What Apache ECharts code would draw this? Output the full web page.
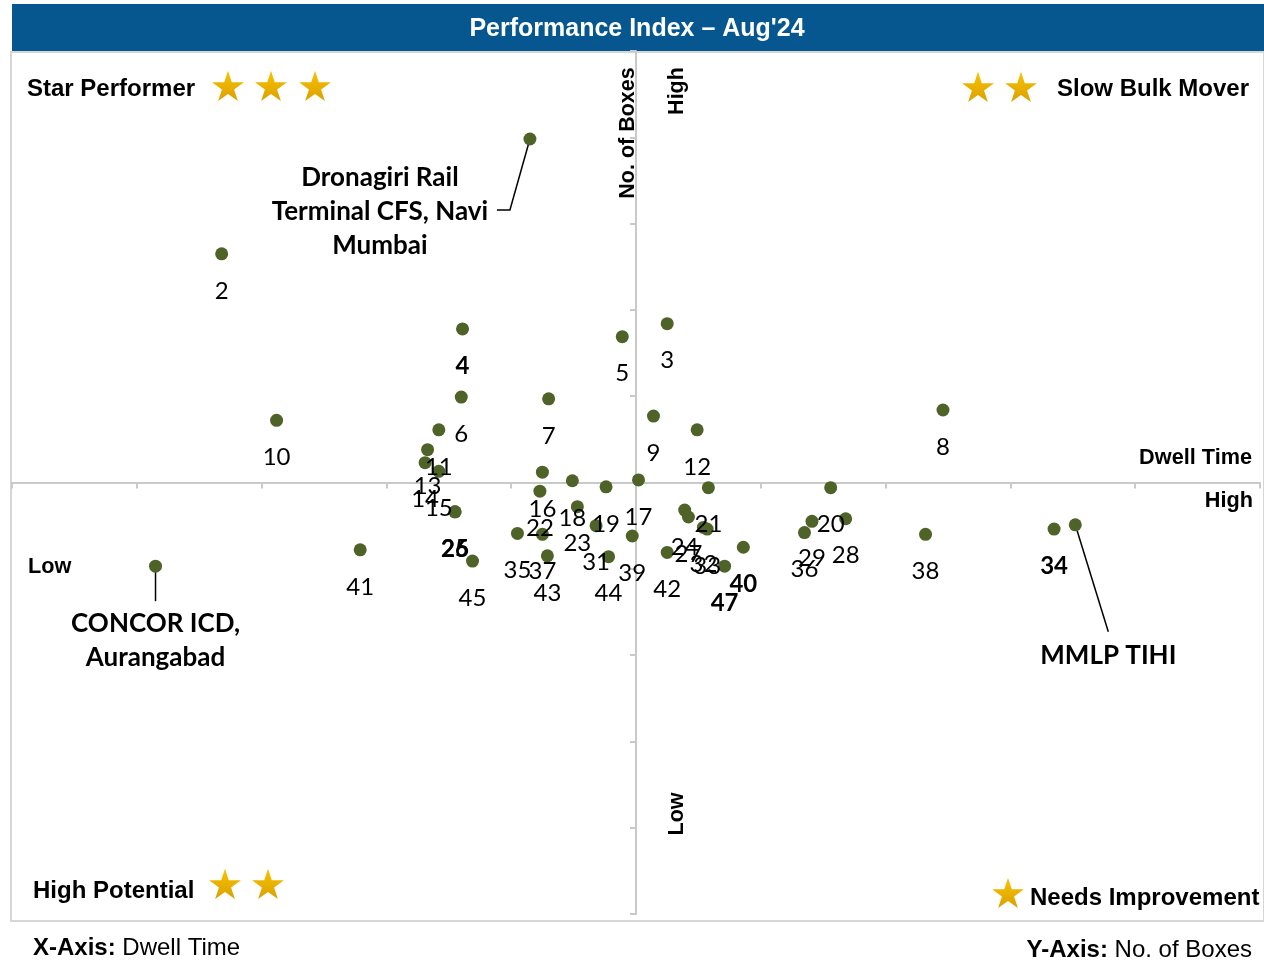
<!DOCTYPE html>
<html>
<head>
<meta charset="utf-8">
<title>Performance Index – Aug'24</title>
<script src="https://cdn.jsdelivr.net/npm/echarts@6/dist/echarts.min.js"></script>
<style>
    html, body { margin: 0; padding: 0; background: #fff; }
    #chart { width: 1264px; height: 963px; }
</style>
</head>
<body>
<div id="chart"></div>
<script>
    // terminal ids (three of them shown by name)
    var pointLabels = [
        'Dronagiri Rail\nTerminal CFS, Navi\nMumbai', '2', '3', '4', '5', '6', '7', '8', '9', '10',
        '11', '12', '13', '14', '15', '16', '17', '18', '19', '20',
        '21', '22', '23', '24', '25', '26', '27', '28', '29', 'MMLP TIHI',
        '31', '32', '33', '34', '35', '36', '37', '38', '39', '40',
        '41', '42', '43', '44', '45', 'CONCOR ICD,\nAurangabad', '47'
    ];
    // x : dwell time (centred score, 0 = average)
    var dwellTime = [
        -0.85, -3.32, 0.25, -1.39, -0.11, -1.40, -0.70, 2.46, 0.14, -2.88,
        -1.58, 0.49, -1.67, -1.69, -1.58, -0.75, 0.02, -0.51, -0.24, 1.56,
        0.58, -0.77, -0.47, 0.39, -1.45, -1.45, 0.42, 1.68, 1.41, 3.52,
        -0.32, 0.54, 0.57, 3.35, -0.95, 1.35, -0.75, 2.32, -0.03, 0.86,
        -2.21, 0.25, -0.71, -0.22, -1.31, -3.85, 0.71
    ];
    // y : no. of boxes (centred score, 0 = average)
    var noOfBoxes = [
        3.98, 2.65, 1.84, 1.78, 1.69, 0.99, 0.97, 0.84, 0.77, 0.72,
        0.61, 0.61, 0.38, 0.23, 0.13, 0.12, 0.03, 0.02, -0.05, -0.06,
        -0.06, -0.10, -0.28, -0.32, -0.34, -0.34, -0.40, -0.42, -0.45, -0.49,
        -0.50, -0.52, -0.54, -0.54, -0.59, -0.58, -0.60, -0.60, -0.62, -0.75,
        -0.78, -0.81, -0.85, -0.86, -0.91, -0.97, -0.97
    ];
    var axisTicks = [-5, -4, -3, -2, -1, 0, 1, 2, 3, 4, 5];

    var SANS = "'Liberation Sans', Arial, sans-serif";
    var LABEL_FONT = "Lato, 'Open Sans', sans-serif";
    var AXIS_GRAY = '#C9C9C9';

    var boldLabels = ['4', '25', '26', '34', '40', '47'];
    // where the named labels sit relative to their dot, plus leader line bends
    var callouts = {
        'Dronagiri Rail\nTerminal CFS, Navi\nMumbai': { offset: [-150, 73], line: [[-20, 71], [-33, 71]] },
        'MMLP TIHI': { offset: [33, 131], line: [[33, 107]] },
        'CONCOR ICD,\nAurangabad': { offset: [0, 74], line: [[0, 35]] }
    };

    var chart = echarts.init(document.getElementById('chart'));

    var seriesData = pointLabels.map(function (name, i) {
        var item = { name: name, value: [dwellTime[i], noOfBoxes[i]] };
        if (callouts[name]) {
            item.label = {
                offset: callouts[name].offset,
                fontWeight: 'bold',
                fontSize: 26,
                lineHeight: 34,
                align: 'center'
            };
        } else if (boldLabels.indexOf(name) >= 0) {
            item.label = { fontWeight: 'bold' };
        }
        return item;
    });

    function starPoints(cx, cy, R) {
        var pts = [], r = R * 0.382;
        for (var k = 0; k < 10; k++) {
            var rad = (k % 2 === 0) ? R : r;
            var a = -Math.PI / 2 + k * Math.PI / 5;
            pts.push([cx + rad * Math.cos(a), cy + rad * Math.sin(a)]);
        }
        return pts;
    }
    function star(cx, cy) {
        return {
            type: 'polygon',
            shape: { points: starPoints(cx, cy + 1.5, 16.8) },
            style: {
                fill: new echarts.graphic.LinearGradient(0, 0, 0, 1, [
                    { offset: 0, color: '#F6C300' },
                    { offset: 1, color: '#DCA000' }
                ])
            }
        };
    }
    function label(text, x, y, size, align, extra) {
        var el = {
            type: 'text',
            x: x, y: y,
            style: {
                text: text, x: 0, y: 0,
                font: 'bold ' + size + 'px ' + SANS,
                fill: '#000',
                align: align,
                verticalAlign: 'middle'
            }
        };
        if (extra) { for (var k in extra) el[k] = extra[k]; }
        return el;
    }

    var graphics = [
        { type: 'rect', shape: { x: 12, y: 4, width: 1252, height: 48 }, style: { fill: '#06568F' } },
        { type: 'rect', shape: { x: 11, y: 52, width: 1253, height: 869 }, style: { fill: null, stroke: '#D6D6D6', lineWidth: 2 } },
        {
            type: 'text', x: 637, y: 29,
            style: { text: "Performance Index – Aug'24", x: 0, y: 0, font: 'bold 25px ' + SANS, fill: '#fff', align: 'center', verticalAlign: 'middle' }
        },
        label('Star Performer', 27, 89, 24, 'left'),
        label('Slow Bulk Mover', 1057, 89, 24, 'left'),
        label('High Potential', 33, 891, 24, 'left'),
        label('Needs Improvement', 1030, 898, 24, 'left'),
        label('Dwell Time', 1252, 458, 21.7, 'right'),
        label('High', 1253, 501, 21.7, 'right'),
        label('Low', 28, 567, 21.7, 'left'),
        label('No. of Boxes', 628, 133, 21.5, 'center', { rotation: Math.PI / 2 }),
        label('High', 677, 91, 21.5, 'center', { rotation: Math.PI / 2 }),
        label('Low', 677, 814, 21.5, 'center', { rotation: Math.PI / 2 }),
        star(228, 86), star(271, 86), star(315, 86),
        star(978, 87), star(1021, 87),
        star(225, 884), star(268, 884),
        star(1008, 893),
        {
            type: 'text', x: 33, y: 948,
            style: {
                text: '{b|X-Axis:}{r| Dwell Time}', x: 0, y: 0, align: 'left', verticalAlign: 'middle',
                rich: {
                    b: { font: 'bold 24px ' + SANS, fill: '#000' },
                    r: { font: '24px ' + SANS, fill: '#000' }
                }
            }
        },
        {
            type: 'text', x: 1252, y: 950,
            style: {
                text: '{b|Y-Axis:}{r| No. of Boxes}', x: 0, y: 0, align: 'right', verticalAlign: 'middle',
                rich: {
                    b: { font: 'bold 24px ' + SANS, fill: '#000' },
                    r: { font: '24px ' + SANS, fill: '#000' }
                }
            }
        }
    ];

    var axisCommon = {
        type: 'value',
        min: axisTicks[0],
        max: axisTicks[axisTicks.length - 1],
        interval: 1,
        axisLine: { show: true, onZero: true, lineStyle: { color: AXIS_GRAY, width: 2 } },
        axisTick: { show: true, length: 6, lineStyle: { color: AXIS_GRAY, width: 2 } },
        axisLabel: { show: false },
        splitLine: { show: false }
    };

    chart.setOption({
        animation: false,
        grid: { left: 12, right: 4, top: 51, bottom: 49 },
        xAxis: axisCommon,
        yAxis: axisCommon,
        graphic: graphics,
        series: [{
            name: 'Terminals',
            type: 'scatter',
            symbolSize: 13,
            itemStyle: { color: '#4F6228', opacity: 1 },
            label: {
                show: true,
                position: 'inside',
                offset: [0, 37],
                formatter: '{b}',
                color: '#000',
                fontFamily: LABEL_FONT,
                fontSize: 24
            },
            emphasis: { disabled: true },
            data: seriesData,
            z: 3
        }]
    });

    // leader lines for the named terminals, anchored on the dot through the axes
    var leaderLines = [];
    pointLabels.forEach(function (name, i) {
        if (!callouts[name]) return;
        var p = chart.convertToPixel({ seriesIndex: 0 }, [dwellTime[i], noOfBoxes[i]]);
        var pts = [p].concat(callouts[name].line.map(function (d) { return [p[0] + d[0], p[1] + d[1]]; }));
        leaderLines.push({
            type: 'polyline',
            shape: { points: pts },
            style: { stroke: '#000', lineWidth: 1.5, fill: null },
            z: 2
        });
    });
    chart.setOption({ graphic: graphics.concat(leaderLines) });
</script>
</body>
</html>
